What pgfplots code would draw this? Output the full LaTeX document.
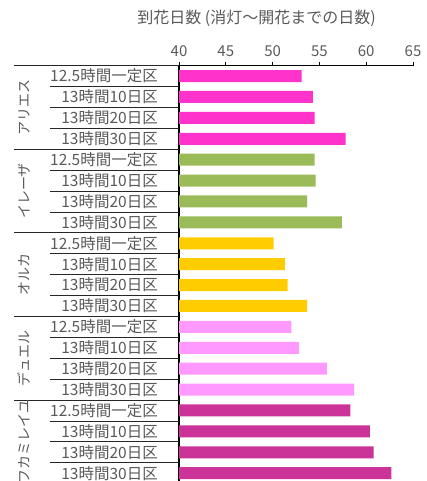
\documentclass[border=0pt]{standalone}
\usepackage{fontspec}
\setmainfont{Noto Sans CJK JP}
\usepackage{pgfplots}
\pgfplotsset{compat=1.18}
\definecolor{txt}{HTML}{595959}
\definecolor{cA}{HTML}{FF33CC}
\definecolor{cB}{HTML}{9BBB59}
\definecolor{cC}{HTML}{FFCC00}
\definecolor{cD}{HTML}{FF99FF}
\definecolor{cE}{HTML}{CC3399}
\begin{document}
\begin{tikzpicture}
\path[use as bounding box] (0,0) rectangle (427bp,-481bp);
\begin{axis}[
  at={(179bp,-65.6bp)}, anchor=north west,
  scale only axis, width=234bp, height=418bp,
  xmin=40, xmax=65, ymin=-0.5, ymax=19.5, y dir=reverse,
  axis x line*=top, axis y line*=left,
  x axis line style={black, line width=0.8bp},
  y axis line style={black, line width=1.8bp},
  xtick={40,45,...,65}, xtick align=outside,
  major tick length=4bp,
  x tick style={black, line width=0.8bp},
  ytick={0,...,19}, ytick style={draw=none},
  yticklabels={12.5時間一定区,13時間10日区,13時間20日区,13時間30日区,
               12.5時間一定区,13時間10日区,13時間20日区,13時間30日区,
               12.5時間一定区,13時間10日区,13時間20日区,13時間30日区,
               12.5時間一定区,13時間10日区,13時間20日区,13時間30日区,
               12.5時間一定区,13時間10日区,13時間20日区,13時間30日区},
  /pgf/number format/assume math mode=true,
  xticklabel style={font=\fontsize{15bp}{17bp}\selectfont, text=txt, yshift=1bp},
  yticklabel style={font=\fontsize{15.5bp}{17bp}\selectfont, text=txt, anchor=east, inner sep=0pt, xshift=-17bp},
  xbar, bar width=12bp, bar shift=0pt,
]
\addplot[fill=cA, draw=none] coordinates {(53.1,0) (54.3,1) (54.5,2) (57.8,3)};
\addplot[fill=cB, draw=none] coordinates {(54.5,4) (54.6,5) (53.7,6) (57.4,7)};
\addplot[fill=cC, draw=none] coordinates {(50.1,8) (51.3,9) (51.6,10) (53.7,11)};
\addplot[fill=cD, draw=none] coordinates {(52.0,12) (52.8,13) (55.8,14) (58.7,15)};
\addplot[fill=cE, draw=none] coordinates {(58.3,16) (60.4,17) (60.8,18) (62.7,19)};
\end{axis}
% category separators
\foreach \i in {1,2,3,5,6,7,9,10,11,13,14,15,17,18,19}
  \draw[black!85, line width=0.8bp] (50bp,-65.6bp-20.9bp*\i) -- (179bp,-65.6bp-20.9bp*\i);
\foreach \i in {0,4,8,12,16,20}
  \draw[black!85, line width=0.8bp] (14bp,-65.6bp-20.9bp*\i) -- (179bp,-65.6bp-20.9bp*\i);
% group labels
\foreach \g/\n in {0/アリエス,1/イレーザ,2/オルカ,3/デュエル,4/フカミレイユ}
  \node[rotate=90, text=txt, font=\fontsize{14bp}{16bp}\selectfont, inner sep=0pt]
    at (24bp,-65.6bp-20.9bp*4*\g-20.9bp*2) {\n};
% title
\node[text=txt, font=\fontsize{16bp}{18bp}\selectfont, inner sep=0pt] at (256.5bp,-18bp) {到花日数 (消灯～開花までの日数)};
\end{tikzpicture}
\end{document}
